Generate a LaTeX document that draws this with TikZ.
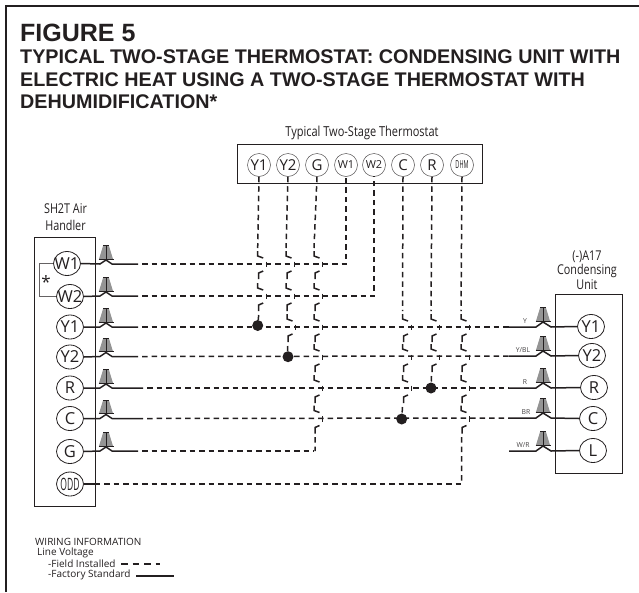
\documentclass[tikz,border=0pt]{standalone}
\usepackage{fontspec}
\setmainfont{Liberation Sans}
\newfontfamily\myr{Open Sans}
\newfontfamily\myc[FakeStretch=0.8]{Open Sans}
\newfontfamily\myn[FakeStretch=0.5]{Open Sans}
\usetikzlibrary{shapes.geometric}
\definecolor{ink}{HTML}{231F20}
\newcommand{\fs}[1]{\fontsize{#1}{#1}\selectfont}
\newcommand{\cb}[1]{\makebox[0pt]{#1}}
\tikzset{
  term/.style={ellipse,draw=ink,line width=0.8pt,inner sep=0pt,minimum width=27pt,minimum height=24pt,text=ink,font=\myr\fs{16.5}},
  tterm/.style={circle,draw=ink!80,line width=0.5pt,inner sep=0pt,minimum size=23pt,text=ink,font=\myr\fs{15}},
  box/.style={draw=ink,line width=0.7pt},
  fieldw/.style={draw=ink,line width=1.5pt,dash pattern=on 5.5pt off 4pt},
  legdash/.style={draw=ink,line width=1.5pt,dash pattern=on 6.5pt off 5pt},
  hopw/.style={draw=ink,line width=1.5pt,line join=miter},
  tickw/.style={draw=ink,line width=0.9pt},
  factw/.style={draw=ink,line width=1.5pt},
  thinw/.style={draw=ink!70,line width=0.6pt},
  dotj/.style={circle,fill=ink,inner sep=0pt,minimum size=11pt},
  lab/.style={text=ink,inner sep=0pt,font=\myc\fs{13.75}},
  ttl/.style={text=ink,inner sep=0pt,anchor=base west,font=\bfseries\fs{19.75}},
  wl/.style={text=ink!85,inner sep=0pt,font=\myr\fs{6.8}},
  leg/.style={text=ink,inner sep=0pt,anchor=west,font=\myr\fs{10}},
  plugfill/.style={fill=black!42,draw=none}
}
\newcommand{\plug}[2]{%
  \fill[plugfill] (#1-3,#2-13) -- (#1+3,#2-13) -- (#1+7,#2) -- (#1-7,#2) -- cycle;
  \draw[ink,line width=0.8pt] (#1-3,#2-13.5) -- (#1+3,#2-13.5) (#1,#2-13.5) -- (#1,#2) (#1-7.5,#2) -- (#1+7.5,#2);
}
% crossover mark of a vertical wire at x over a horizontal wire at y
\newcommand{\hopmark}[2]{%
  \draw[hopw] (#1,#2-13) -- (#1,#2-8) -- (#1+5.5,#2-6);
  \draw[hopw] (#1+5.5,#2+7) -- (#1+1,#2+9) -- (#1+1,#2+15);
  \draw[tickw] (#1+8.5,#2-2.5) -- (#1+8.5,#2+3);
}
\begin{document}
\begin{tikzpicture}[x=1pt,y=-1pt]
\useasboundingbox (0,0) rectangle (639,592);
\draw[ink,line width=2.4pt] (6,592) -- (6,6) -- (639,6);
% titles
\node[ttl,font=\bfseries\fs{25}] (t0) at (20,41) {FIGURE 5};
\node[ttl] (t1) at (20,63.5) {TYPICAL TWO-STAGE THERMOSTAT: CONDENSING UNIT WITH};
\node[ttl] (t2) at (20,86.5) {ELECTRIC HEAT USING A TWO-STAGE THERMOSTAT WITH};
\node[ttl] (t3) at (20,108.5) {DEHUMIDIFICATION*};
% boxes
\draw[box] (237,144) rectangle (482,183);
\draw[box] (34,237) rectangle (95,506);
\draw[box] (555,294) rectangle (622,473);
\node[lab] (ttxt) at (362,133) {Typical Two-Stage Thermostat};
\node[lab,align=center,font=\myc\fs{13.5}] (htxt) at (65.5,217) {SH2T Air\\[3pt]Handler};
\node[lab,align=center,font=\myc\fs{13.5}] (ctxt) at (587,270) {(-)A17\\[1pt]Condensing\\[1pt]Unit};
% thermostat terminals
\foreach \n/\x/\l/\f in {Y1/259/Y1/15,Y2/288/Y2/15,G/317/G/15,W1/346/W1/11,W2/374/W2/11,C/403/C/15,R/432/R/15}
  \node[tterm,font=\myr\fs{\f}] (t\n) at (\x,165) {\cb{\l}};
\node[tterm,font=\myn\fs{11}] (tDHM) at (462,165) {\cb{DHM}};
% handler terminals
\foreach \n/\x/\y in {W1/67/263.5,W2/70/296.5,Y1/70/327,Y2/70/357,R/70/388,C/70/418.5,G/70/451.5}
  \node[term] (h\n) at (\x,\y) {\cb{\n}};
\node[term,font=\myn\fs{17}] (hODD) at (70,484) {\cb{ODD}};
% condensing terminals
\foreach \n/\x/\y in {Y1/591/326.5,Y2/592/355.5,R/594/387.5,C/593/418.5,L/593/450.5}
  \node[term] (c\n) at (\x,\y) {\cb{\n}};
% left solid stubs with plugs
\foreach \n/\y/\e in {W1/264/138,W2/296/138,Y1/327/138,Y2/356.5/138,R/388/143,C/418.5/143,G/451/138}{
  \plug{106}{\y-5}
  \draw[factw] (h\n.east) -- (100,\y) -- (106,\y-4) -- (112,\y) -- (\e,\y);
}
% right solid stubs with plugs
\foreach \n/\y in {Y1/327,Y2/356,R/388,C/418,L/451}{
  \plug{543}{\y-6}
  \draw[factw] (c\n.west) -- (551,\y) -- (543,\y-5) -- (536,\y) -- (509,\y);
}
\node[wl] (ly) at (525,321) {Y};
\node[wl] (lyb) at (523,350) {Y/BL};
\node[wl] (lr) at (525,382) {R};
\node[wl] (lbr) at (526,412) {BR};
\node[wl] (lwr) at (523,445) {W/R};
% jumper
\draw[thinw] (hW1.west) -- (39,263.5) -- (39,296.5) -- (hW2.west);
\node[text=ink,inner sep=0pt,font=\myr\fs{17}] (star) at (46,282) {*};
% junctions
\node[dotj] (dY1) at (257.7,325.5) {};
\node[dotj] (dY2) at (288,356.7) {};
\node[dotj] (dR) at (431,388) {};
\node[dotj] (dC) at (401.7,419) {};
% horizontal field wires
\draw[fieldw] (142,264) -- (346,264) -- (346,183) -- (tW1.south);
\draw[fieldw] (142,296) -- (374,296) -- (374,176) -- (tW2.south);
\draw[fieldw] (142,327) -- (509,327);
\draw[fieldw] (142,356.5) -- (509,356);
\draw[fieldw] (147,388) -- (509,388);
\draw[fieldw] (147,418.5) -- (509,418);
\draw[fieldw] (142,451) -- (314,451);
\draw[factw] (hODD.east) -- (100,484);
\draw[fieldw] (104,484) -- (461,484);
% vertical field wires: straight runs and crossovers
\draw[fieldw] (tY1.south) -- (257.7,248) (258.7,315) -- (dY1);
\hopmark{257.7}{264}\hopmark{257.7}{296}
\draw[fieldw] (tY2.south) -- (286,248) (287.5,346) -- (dY2);
\hopmark{286}{264}\hopmark{286}{296}\hopmark{287}{327}
\draw[fieldw] (tG.south) -- (314,248) (315,437) -- (315,451);
\foreach \y in {264,296,327,357,388,418.5}{\hopmark{314}{\y}}
\draw[fieldw] (tC.south) -- (402.5,311) (402.5,407) -- (dC);
\foreach \y in {327,357,388}{\hopmark{402.5}{\y}}
\draw[fieldw] (tR.south) -- (431,311) (431.5,376) -- (dR);
\foreach \y in {327,357}{\hopmark{431}{\y}}
\draw[fieldw] (tDHM.south) -- (461,311) (461.5,437) -- (461.5,484);
\foreach \y in {327,357,388,418.5}{\hopmark{461}{\y}}
% legend
\node[leg] (l1) at (35,542) {WIRING INFORMATION};
\node[leg] (l2) at (37,552.5) {Line Voltage};
\node[leg] (l3) at (48,563.5) {-Field Installed};
\node[leg] (l4) at (48,575) {-Factory Standard};
\coordinate (f1) at (121,564); \coordinate (f2) at (160,564);
\coordinate (s1) at (136,576); \coordinate (s2) at (174,576);
\draw[legdash] (f1) -- (f2);
\draw[factw] (s1) -- (s2);
\end{tikzpicture}
\end{document}
